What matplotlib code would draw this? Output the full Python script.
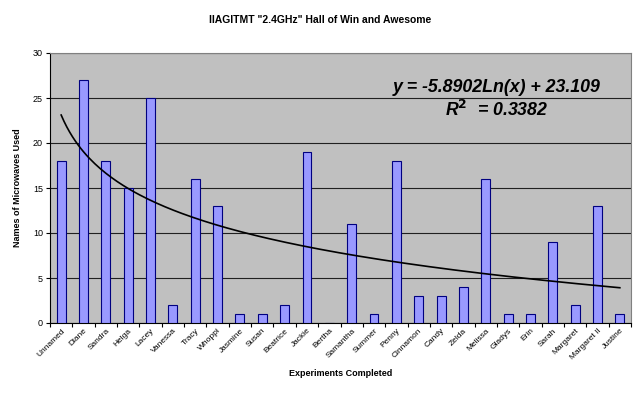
import numpy as np
import matplotlib.pyplot as plt

plt.rcParams['font.family'] = ['Liberation Sans', 'DejaVu Sans']

names = ['Unnamed', 'Diane', 'Sandra', 'Helga', 'Lacey', 'Vanessa', 'Tracy',
         'Whoppi', 'Jasmine', 'Susan', 'Beatrice', 'Jackie', 'Bertha',
         'Samantha', 'Summer', 'Penny', 'Cinnamon', 'Candy', 'Zelda',
         'Melissa', 'Gladys', 'Erin', 'Sarah', 'Margaret', 'Margaret II',
         'Justine']
microwaves = [18, 27, 18, 15, 25, 2, 16, 13, 1, 1, 2, 19, 0, 11, 1, 18,
              3, 3, 4, 16, 1, 1, 9, 2, 13, 1]
# trendline shown on chart: y = -5.8902 Ln(x) + 23.109
trend_a, trend_b = -5.8902, 23.109

fig = plt.figure(figsize=(6.4, 3.94), dpi=100)
ax = fig.add_axes([50/640, 1-323/394, 581/640, 270/394])

x = np.arange(1, len(names) + 1)
ax.bar(x, microwaves, width=0.4, color='#9999ff', edgecolor='#000080', linewidth=0.8, zorder=3)

xt = np.linspace(1, len(names), 200)
ax.plot(xt, trend_a * np.log(xt) + trend_b, color='black', linewidth=1.2, zorder=4)

ax.set_facecolor('#c0c0c0')
ax.set_xlim(0.5, len(names) + 0.5)
ax.set_ylim(0, 30)
ax.set_yticks(range(0, 31, 5))
ax.grid(axis='y', color='#202020', linewidth=0.8, zorder=1)
ax.set_xticks(np.arange(0.5, len(names) + 1, 1.0))
ax.set_xticklabels([])
ax.set_xticks(x, minor=True)
ax.set_xticklabels(names, minor=True, rotation=45, ha='right', rotation_mode='anchor', fontsize=6)
ax.tick_params(axis='x', which='minor', length=0, pad=3)
ax.tick_params(axis='x', which='major', length=3, direction='out')
ax.tick_params(axis='y', labelsize=6.5, length=3, pad=2)

for side in ['top', 'right']:
    ax.spines[side].set_color('#808080')
for side in ['left', 'bottom']:
    ax.spines[side].set_color('black')

ax.set_xlabel('Experiments Completed', fontsize=6.5, fontweight='bold', labelpad=6)
ax.set_ylabel('Names of Microwaves Used', fontsize=6.5, fontweight='bold', labelpad=8)
fig.text(0.5, 1-20/394, 'IIAGITMT "2.4GHz" Hall of Win and Awesome', ha='center', va='center',
         fontsize=7.5, fontweight='bold')

ax.text(0.769, 0.874, 'y = -5.8902Ln(x) + 23.109', transform=ax.transAxes, ha='center', va='center',
        fontsize=12.8, fontweight='bold', fontstyle='italic', zorder=5)
ax.text(0.769, 0.789, r'R$^{\mathbf{2}}$  = 0.3382', transform=ax.transAxes, ha='center', va='center',
        fontsize=12.8, fontweight='bold', fontstyle='italic', zorder=5)

fig.savefig('out.png', dpi=100)
